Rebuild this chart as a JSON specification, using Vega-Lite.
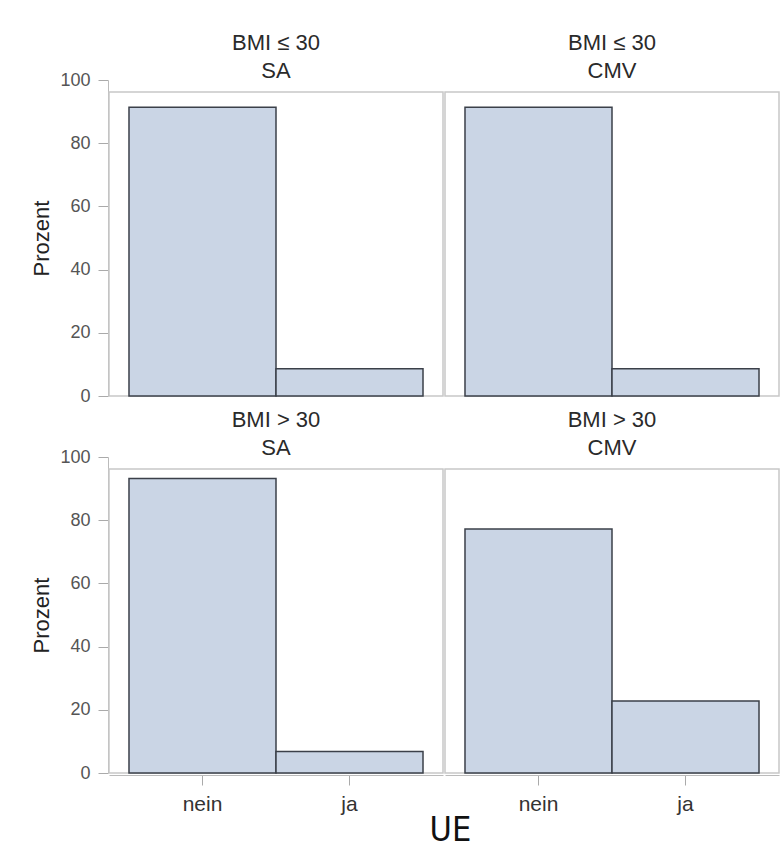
{
  "$schema": "https://vega.github.io/schema/vega-lite/v6.json",
  "padding": {"top": 31, "left": 30, "right": 5, "bottom": 2},
  "background": "white",
  "data": {"values": [
    {"panel": "BMI ≤ 30|SA", "order": 1, "UE": "nein", "Prozent": 91.4},
    {"panel": "BMI ≤ 30|SA", "order": 1, "UE": "ja", "Prozent": 8.6},
    {"panel": "BMI ≤ 30|CMV", "order": 2, "UE": "nein", "Prozent": 91.4},
    {"panel": "BMI ≤ 30|CMV", "order": 2, "UE": "ja", "Prozent": 8.6},
    {"panel": "BMI > 30|SA", "order": 3, "UE": "nein", "Prozent": 93.2},
    {"panel": "BMI > 30|SA", "order": 3, "UE": "ja", "Prozent": 6.8},
    {"panel": "BMI > 30|CMV", "order": 4, "UE": "nein", "Prozent": 77.2},
    {"panel": "BMI > 30|CMV", "order": 4, "UE": "ja", "Prozent": 22.8}
  ]},
  "facet": {
    "field": "panel",
    "type": "nominal",
    "sort": {"field": "order"},
    "header": {
      "title": null,
      "labelExpr": "split(datum.value, '|')",
      "labelFont": "Liberation Sans",
      "labelFontSize": 22,
      "labelColor": "#2a2a2a",
      "labelLineHeight": 28,
      "labelPadding": 9
    }
  },
  "columns": 2,
  "spacing": {"row": 10, "column": 0},
  "spec": {
    "width": 334,
    "height": 304,
    "mark": {"type": "bar", "fill": "#cad5e5", "stroke": "#3b4049", "strokeWidth": 1.5},
    "encoding": {
      "x": {
        "field": "UE", "type": "nominal", "sort": ["nein", "ja"],
        "scale": {"paddingInner": 0, "paddingOuter": 0.136},
        "axis": {
          "title": null, "labelAngle": 0, "labelFont": "Liberation Sans", "labelFontSize": 21,
          "labelColor": "#333333", "labelPadding": 8, "tickColor": "#aaaaaa", "tickSize": 10,
          "domainColor": "#bbbbbb"
        }
      },
      "y": {
        "field": "Prozent", "type": "quantitative",
        "scale": {"domain": [0, 100], "nice": false, "range": [304, -12]},
        "axis": {
          "values": [0, 20, 40, 60, 80, 100], "grid": false,
          "title": "Prozent", "titleFont": "Liberation Sans", "titleFontSize": 22, "titleFontWeight": "normal",
          "titleColor": "#222222", "titlePadding": 6,
          "labelFont": "Liberation Sans", "labelFontSize": 18, "labelColor": "#555555", "labelPadding": 8,
          "tickColor": "#aaaaaa", "tickSize": 10, "domainColor": "#bbbbbb"
        }
      }
    }
  },
  "title": {
    "text": "UE", "orient": "bottom", "anchor": "middle", "dx": 45,
    "font": "DejaVu Sans Condensed, Liberation Sans Narrow, Roboto Condensed, sans-serif", "fontSize": 34, "fontWeight": "normal", "color": "#111111", "offset": 0
  },
  "config": {
    "view": {"stroke": "#c8c8c8", "strokeWidth": 1.5}
  }
}
